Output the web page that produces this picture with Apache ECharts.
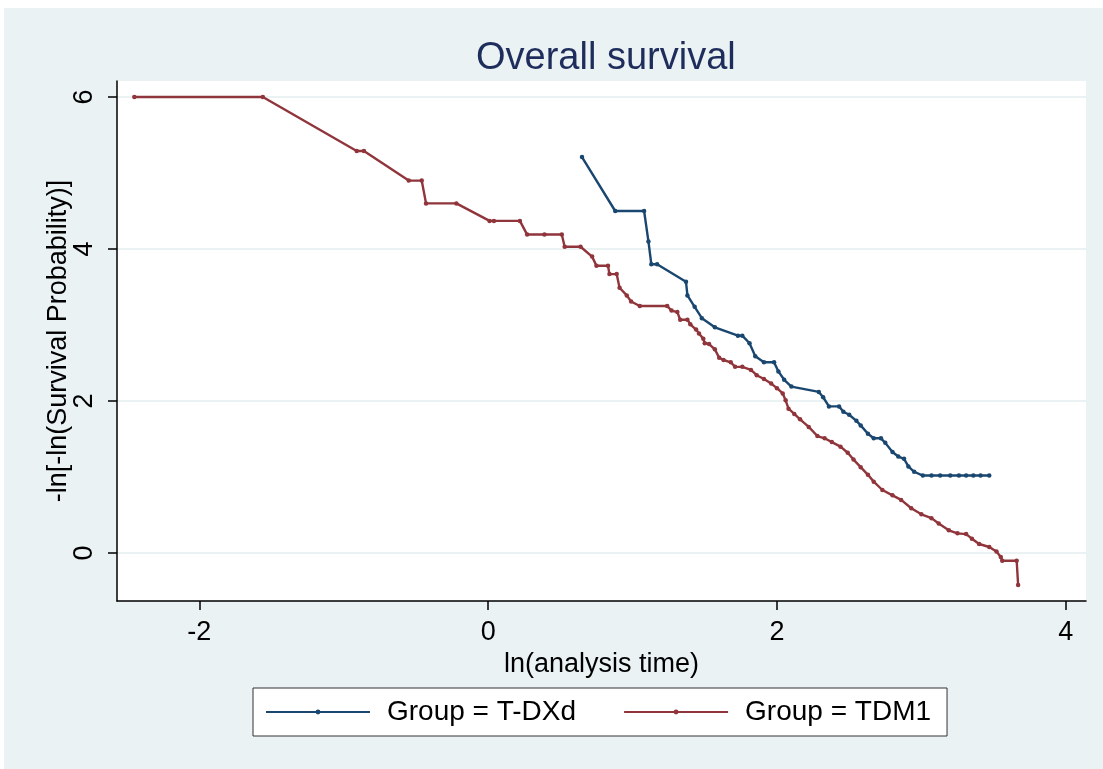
<!DOCTYPE html>
<html>
<head>
<meta charset="utf-8">
<script src="https://cdn.jsdelivr.net/npm/echarts@6/dist/echarts.min.js"></script>
<style>
  html, body { margin: 0; padding: 0; background: #fff; }
  #chart { width: 1103px; height: 769px; }
</style>
</head>
<body>
<div id="chart"></div>
<script>
// x = ln(analysis time), y = -ln[-ln(S)]
var tdxdX = [0.65, 0.88, 1.08, 1.11, 1.13, 1.17, 1.37, 1.38, 1.43, 1.48, 1.57, 1.73, 1.76, 1.81, 1.85, 1.91, 1.98,
  2.01, 2.05, 2.10, 2.29, 2.32, 2.36, 2.43, 2.46, 2.50, 2.55, 2.58, 2.63, 2.67, 2.72, 2.75, 2.80, 2.84, 2.88, 2.91,
  2.95, 3.01, 3.07, 3.13, 3.20, 3.26, 3.31, 3.36, 3.41, 3.47];
var tdxdY = [5.21, 4.50, 4.50, 4.10, 3.80, 3.80, 3.57, 3.39, 3.24, 3.09, 2.97, 2.86, 2.86, 2.76, 2.59, 2.51, 2.51,
  2.39, 2.28, 2.19, 2.12, 2.05, 1.93, 1.93, 1.86, 1.82, 1.74, 1.68, 1.57, 1.51, 1.51, 1.45, 1.33, 1.27, 1.24, 1.14,
  1.07, 1.02, 1.02, 1.02, 1.02, 1.02, 1.02, 1.02, 1.02, 1.02];

var tdm1X = [-2.45, -1.56, -0.91, -0.86, -0.55, -0.46, -0.43, -0.22, 0.01, 0.04, 0.22, 0.27, 0.39, 0.51, 0.53, 0.64,
  0.72, 0.75, 0.83, 0.84, 0.89, 0.91, 0.96, 0.99, 1.05, 1.24, 1.27, 1.31, 1.33, 1.38, 1.40, 1.44, 1.46, 1.49, 1.50,
  1.53, 1.57, 1.60, 1.63, 1.68, 1.71, 1.76, 1.82, 1.86, 1.91, 1.96, 2.00, 2.04, 2.06, 2.08, 2.12, 2.16, 2.22, 2.28,
  2.33, 2.38, 2.44, 2.49, 2.53, 2.58, 2.63, 2.67, 2.73, 2.80, 2.86, 2.93, 3.00, 3.07, 3.12, 3.19, 3.25, 3.31, 3.35,
  3.40, 3.47, 3.52, 3.55, 3.56, 3.66, 3.67];
var tdm1Y = [6.00, 6.00, 5.29, 5.29, 4.90, 4.90, 4.60, 4.60, 4.37, 4.37, 4.37, 4.19, 4.19, 4.19, 4.03, 4.03,
  3.90, 3.78, 3.78, 3.67, 3.67, 3.49, 3.39, 3.31, 3.25, 3.25, 3.19, 3.17, 3.07, 3.07, 3.01, 2.94, 2.89, 2.82, 2.76,
  2.75, 2.68, 2.57, 2.54, 2.51, 2.45, 2.45, 2.41, 2.34, 2.29, 2.23, 2.17, 2.10, 2.01, 1.90, 1.83, 1.76, 1.66, 1.54,
  1.51, 1.46, 1.40, 1.32, 1.23, 1.13, 1.03, 0.94, 0.83, 0.76, 0.70, 0.59, 0.51, 0.46, 0.39, 0.30, 0.26, 0.25, 0.19,
  0.12, 0.08, 0.02, -0.05, -0.10, -0.10, -0.42];

var xTicks = [-2, 0, 2, 4];
var yTicks = [0, 2, 4, 6];
var groups = ['Group = T-DXd', 'Group = TDM1'];

function zip(xs, ys) {
  var out = [];
  for (var i = 0; i < xs.length; i++) out.push([xs[i], ys[i]]);
  return out;
}

var FONT = "'Liberation Sans', Arial, sans-serif";
var BG = '#eaf2f3';

var myChart = echarts.init(document.getElementById('chart'));
var option = {
  animation: false,
  backgroundColor: BG,
  textStyle: { fontFamily: FONT, color: '#000' },
  graphic: [
    { type: 'rect', left: 0, top: 0, shape: { width: 1103, height: 8 }, style: { fill: '#fff' }, silent: true },
    { type: 'rect', left: 0, top: 0, shape: { width: 4, height: 769 }, style: { fill: '#fff' }, silent: true }
  ],
  // centred over the plot area, not the whole canvas
  title: {
    text: 'Overall survival',
    left: 471,
    top: 35,
    textStyle: { fontFamily: FONT, fontSize: 38, fontWeight: 'normal', color: '#1e2d5c' }
  },
  grid: { left: 117, top: 81, width: 969, height: 520, show: true, backgroundColor: '#fff', borderWidth: 0 },
  legend: {
    left: 253,
    top: 688,
    data: groups,
    backgroundColor: '#fff',
    borderColor: '#333',
    borderWidth: 1,
    padding: [10, 16, 10, 12],
    itemWidth: 104,
    itemHeight: 6,
    itemGap: 47,
    textStyle: { fontFamily: FONT, fontSize: 28, color: '#000', padding: [0, 0, 0, 12] }
  },
  xAxis: {
    type: 'value',
    min: -2.57,
    max: 4.14,
    name: 'ln(analysis time)',
    nameLocation: 'middle',
    nameGap: 42,
    nameTextStyle: { fontFamily: FONT, fontSize: 27, color: '#000' },
    axisLine: { onZero: false, lineStyle: { color: '#000', width: 1.5 } },
    axisTick: { length: 9, customValues: xTicks, lineStyle: { color: '#000', width: 1.5 } },
    axisLabel: { customValues: xTicks, fontSize: 27, margin: 18, color: '#000' },
    splitLine: { show: false }
  },
  yAxis: {
    type: 'value',
    min: -0.63,
    max: 6.21,
    name: '-ln[-ln(Survival Probability)]',
    nameLocation: 'middle',
    nameGap: 45,
    nameMoveOverlap: false,
    nameTextStyle: { fontFamily: FONT, fontSize: 27, color: '#000' },
    axisLine: { show: true, onZero: false, lineStyle: { color: '#000', width: 1.5 } },
    axisTick: { show: true, length: 9, customValues: yTicks, lineStyle: { color: '#000', width: 1.5 } },
    axisLabel: { customValues: yTicks, rotate: 90, fontSize: 27, margin: 19, color: '#000' },
    splitLine: { show: true, lineStyle: { color: BG, width: 2 } }
  },
  series: [
    {
      name: groups[0],
      type: 'line',
      data: zip(tdxdX, tdxdY),
      symbol: 'circle',
      symbolSize: 4.5,
      color: '#1a476f',
      lineStyle: { width: 2.4, color: '#1a476f' },
      itemStyle: { color: '#1a476f' }
    },
    {
      name: groups[1],
      type: 'line',
      data: zip(tdm1X, tdm1Y),
      symbol: 'circle',
      symbolSize: 4.5,
      color: '#90353b',
      lineStyle: { width: 2.4, color: '#90353b' },
      itemStyle: { color: '#90353b' }
    }
  ]
};
myChart.setOption(option);
</script>
</body>
</html>
